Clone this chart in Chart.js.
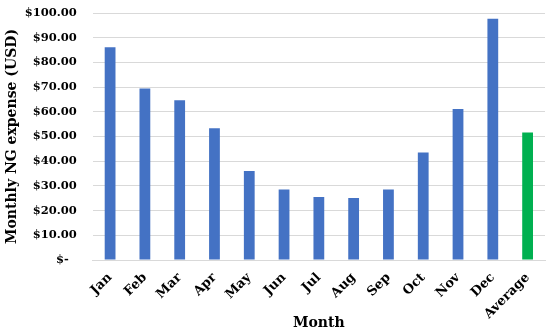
<!DOCTYPE html>
<html>
<head>
<meta charset="utf-8">
<script src="https://cdn.jsdelivr.net/npm/chart.js@4"></script>
<style>
  html, body { margin: 0; padding: 0; background: #fff; }
  #wrap { width: 550px; height: 333px; }
</style>
</head>
<body>
<div id="wrap"><canvas id="myChart" width="550" height="333"></canvas></div>
<script>
const months = ["Jan", "Feb", "Mar", "Apr", "May", "Jun", "Jul", "Aug", "Sep", "Oct", "Nov", "Dec", "Average"];
const expense = [86.1, 69.4, 64.7, 53.3, 36.0, 28.5, 25.5, 25.1, 28.5, 43.5, 61.1, 97.7, 51.6];
const barColors = ["#4472C4", "#4472C4", "#4472C4", "#4472C4", "#4472C4", "#4472C4", "#4472C4",
                   "#4472C4", "#4472C4", "#4472C4", "#4472C4", "#4472C4", "#00B050"];

document.addEventListener("DOMContentLoaded", function () {
  const font = "'DejaVu Serif', 'Liberation Serif', serif";
  const ctx = document.getElementById("myChart").getContext("2d");

  new Chart(ctx, {
    type: "bar",
    data: {
      labels: months,
      datasets: [{
        data: expense,
        backgroundColor: barColors,
        categoryPercentage: 1,
        barPercentage: 0.31
      }]
    },
    options: {
      responsive: false,
      animation: false,
      layout: { padding: { top: 0, right: 5, left: 4, bottom: 1 } },
      plugins: {
        legend: { display: false },
        tooltip: { enabled: false }
      },
      scales: {
        x: {
          grid: { display: false },
          border: { color: "#d9d9d9" },
          afterFit: function (scale) { scale.height = 72; },
          ticks: {
            color: "#000",
            minRotation: 45,
            maxRotation: 45,
            padding: 2,
            font: { family: font, size: 13, weight: "bold" }
          },
          title: {
            display: true,
            text: "Month",
            color: "#000",
            padding: { top: 0, bottom: 0 },
            font: { family: font, size: 14, weight: "bold" }
          }
        },
        y: {
          min: 0,
          max: 100,
          border: { display: false },
          grid: { color: "#d9d9d9", drawTicks: false },
          afterFit: function (scale) {
            scale.width = 88.7;
            // keep the tick padding from pushing the plot top down
            scale.paddingTop = 13;
            scale.paddingBottom = 7;
          },
          ticks: {
            stepSize: 10,
            color: "#000",
            padding: 16,
            font: { family: font, size: 11.5, weight: "bold" },
            callback: function (value) {
              return value === 0 ? "$-  " : "$" + value.toFixed(2);
            }
          },
          title: {
            display: true,
            text: "Monthly NG expense (USD)",
            color: "#000",
            padding: { top: 0, bottom: 2 },
            font: { family: font, size: 14, weight: "bold" }
          }
        }
      }
    }
  });
});
</script>
</body>
</html>
